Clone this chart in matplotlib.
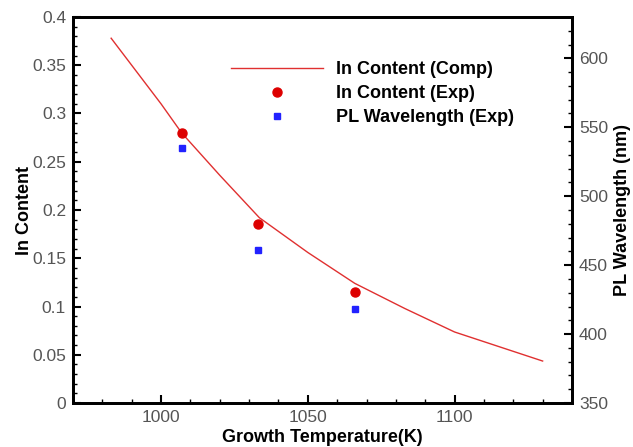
import matplotlib.pyplot as plt
from matplotlib.ticker import MultipleLocator

plt.rcParams['font.family'] = ['Liberation Sans', 'DejaVu Sans']

# computed In content curve
comp_temp = [983, 1000, 1007, 1020, 1033.5, 1050, 1066, 1083, 1100, 1130]
comp_in = [0.378, 0.310, 0.280, 0.236, 0.192, 0.156, 0.124, 0.098, 0.0736, 0.0435]

# experiment
exp_temp = [1007, 1033, 1066]
exp_in = [0.280, 0.185, 0.115]
pl_temp = [1007, 1033, 1066]
pl_wl = [535, 461, 418]

fig = plt.figure(figsize=(6.33, 4.47), dpi=100)
ax = fig.add_axes([0.1153, 0.0984, 0.7883, 0.8636])
ax2 = ax.twinx()

l1, = ax.plot(comp_temp, comp_in, color='#e03030', lw=1.0, label='In Content (Comp)')
p1, = ax.plot(exp_temp, exp_in, 'o', color='#dd0000', ms=6.5, ls='none', label='In Content (Exp)')
p2, = ax2.plot(pl_temp, pl_wl, 's', color='#2222ff', ms=4.5, ls='none', label='PL Wavelength (Exp)')

ax.set_xlim(970, 1140)
ax.set_ylim(0, 0.4)
ax2.set_ylim(350, 630)

ax.xaxis.set_major_locator(MultipleLocator(50))
ax.xaxis.set_minor_locator(MultipleLocator(10))
ax.yaxis.set_minor_locator(MultipleLocator(0.01))
ax.set_yticks([0, 0.05, 0.1, 0.15, 0.2, 0.25, 0.3, 0.35, 0.4])
ax.set_yticklabels(['0', '0.05', '0.1', '0.15', '0.2', '0.25', '0.3', '0.35', '0.4'])
ax2.yaxis.set_major_locator(MultipleLocator(50))
ax2.yaxis.set_minor_locator(MultipleLocator(10))

for a in (ax, ax2):
    for s in a.spines.values():
        s.set_linewidth(2)
    a.tick_params(which='major', direction='in', length=6, width=1.5, labelsize=12.5,
                  labelcolor='#555555', pad=5)
    a.tick_params(which='minor', direction='in', length=3, width=1)
ax.tick_params(which='both', top=False, right=False)
ax2.tick_params(which='both', left=False, right=True)

ax.set_xlabel('Growth Temperature(K)', fontsize=13, fontweight='bold', labelpad=3)
ax.set_ylabel('In Content', fontsize=13, fontweight='bold', labelpad=-1)
ax2.set_ylabel('PL Wavelength (nm)', fontsize=13, fontweight='bold', labelpad=4)

leg = ax.legend(handles=[l1, p1, p2], loc='upper left', bbox_to_anchor=(0.284, 0.928),
                frameon=False, handlelength=5.1, handletextpad=0.72, labelspacing=0.4,
                prop={'weight': 'bold', 'size': 13})

fig.savefig('out.png', dpi=100)
